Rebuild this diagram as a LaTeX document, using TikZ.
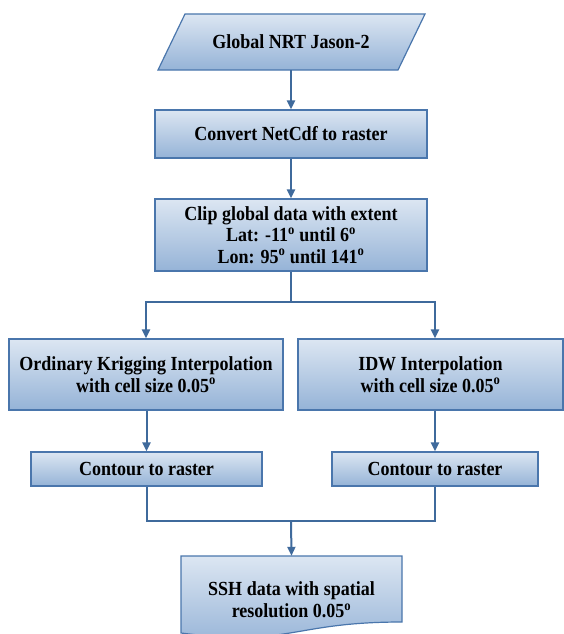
\documentclass[tikz,border=0pt]{standalone}
\usepackage{fontspec}
\setmainfont{Liberation Serif}[FakeStretch=0.9]
\usetikzlibrary{arrows.meta}
\definecolor{topc}{HTML}{DCE6F2}
\definecolor{botc}{HTML}{95B3D7}
\definecolor{bordc}{HTML}{4A76AC}
\definecolor{linec}{HTML}{3F6A9C}
\newcommand{\dg}{\textsuperscript{o}}
\begin{document}
\begin{tikzpicture}[x=1pt,y=-1pt,
  txt/.style={font=\bfseries\fontsize{20}{21.7}\selectfont, align=center, inner sep=0pt},
  box/.style={txt, draw=bordc, line width=1.2pt, top color=topc, bottom color=botc},
  shp/.style={draw=bordc, line width=1.2pt, top color=topc, bottom color=botc},
  arr/.style={draw=linec, line width=2pt, -{Triangle[length=9pt,width=8pt]}},
  ln/.style={draw=linec, line width=2pt}]
\useasboundingbox (0,0) rectangle (564,634);
% input parallelogram
\path[shp] (185,14) -- (425,14) -- (398,70) -- (158,70) -- cycle;
\node[txt, minimum width=240pt, minimum height=56pt] (in) at (291,42) {Global NRT Jason-2};
\node[box, minimum width=272pt, minimum height=48pt] (conv) at (291,134) {Convert NetCdf to raster};
\node[box, minimum width=272pt, minimum height=72pt] (clip) at (291,235) {Clip global data with extent\\Lat: -11\dg{} until 6\dg\\Lon: 95\dg{} until 141\dg};
\node[box, minimum width=274pt, minimum height=71pt] (ok) at (146,374.5) {Ordinary Krigging Interpolation\\with cell size 0.05\dg};
\node[box, minimum width=265pt, minimum height=71pt] (idw) at (430.5,374.5) {IDW Interpolation\\with cell size 0.05\dg};
\node[box, minimum width=231pt, minimum height=34pt] (cl) at (146.5,469) {Contour to raster};
\node[box, minimum width=206pt, minimum height=34pt] (cr) at (435,469) {Contour to raster};
% output document shape
\path[shp] (181,556) -- (402,556) -- (402,622) .. controls (291.5,622) and (291.5,647) .. (181,633) -- cycle;
\node[txt, minimum width=221pt, minimum height=88pt] (ssh) at (291.5,600) {SSH data with spatial\\resolution 0.05\dg};
\coordinate (b) at (291,302);
\coordinate (m) at (291,521);
% connectors
\draw[arr] (in.south) -- (conv.north);
\draw[arr] (conv.south) -- (clip.north);
\draw[ln] (clip.south) -- (b);
\draw[arr] (b) -| (ok.north);
\draw[arr] (b) -| (cr.north |- idw.north);
\draw[arr] (ok.south -| cl.north) -- (cl.north);
\draw[arr] (cr.north |- idw.south) -- (cr.north);
\draw[ln] (cl.south) |- (m) -| (cr.south);
\draw[arr] (m) -- (ssh.north);
\end{tikzpicture}
\end{document}
